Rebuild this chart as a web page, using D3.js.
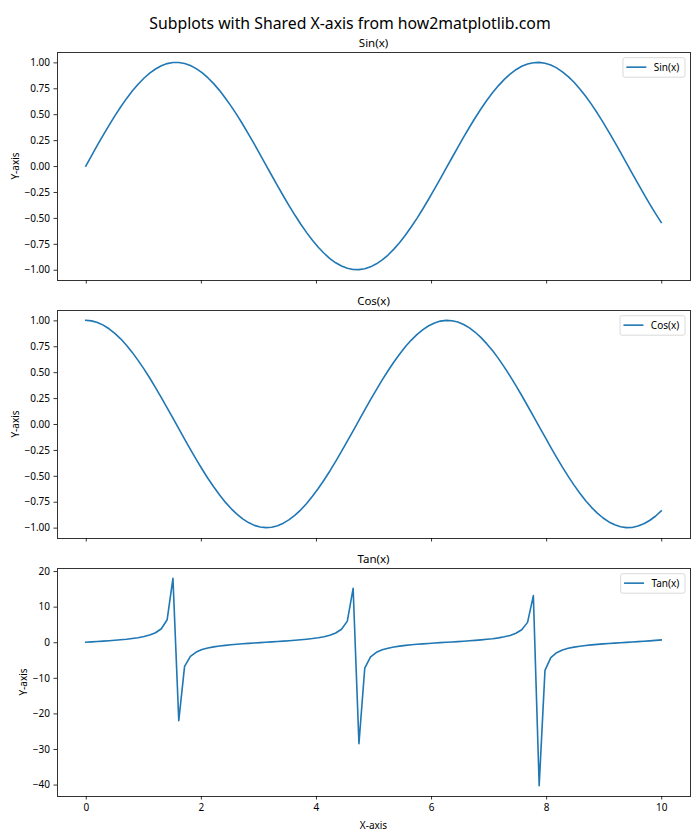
<!DOCTYPE html>
<html>
<head>
<meta charset="utf-8">
<script src="https://cdn.jsdelivr.net/npm/d3@7/dist/d3.min.js"></script>
<style>
  html, body { margin: 0; padding: 0; background: #fff; }
  svg { display: block; }
  text { font-family: "Noto Sans", "Open Sans", sans-serif; fill: #000; }
</style>
</head>
<body>
<div id="chart"></div>
<script>
// ---- data (x = 100 sample points from 0 to 10) ----
const xValues = [
  0, 0.101, 0.202, 0.303, 0.404, 0.505, 0.606, 0.707, 0.808, 0.909,
  1.010, 1.111, 1.212, 1.313, 1.414, 1.515, 1.616, 1.717, 1.818, 1.919,
  2.020, 2.121, 2.222, 2.323, 2.424, 2.525, 2.626, 2.727, 2.828, 2.929,
  3.030, 3.131, 3.232, 3.333, 3.434, 3.535, 3.636, 3.737, 3.838, 3.939,
  4.040, 4.141, 4.242, 4.343, 4.444, 4.545, 4.646, 4.747, 4.848, 4.949,
  5.051, 5.152, 5.253, 5.354, 5.455, 5.556, 5.657, 5.758, 5.859, 5.960,
  6.061, 6.162, 6.263, 6.364, 6.465, 6.566, 6.667, 6.768, 6.869, 6.970,
  7.071, 7.172, 7.273, 7.374, 7.475, 7.576, 7.677, 7.778, 7.879, 7.980,
  8.081, 8.182, 8.283, 8.384, 8.485, 8.586, 8.687, 8.788, 8.889, 8.990,
  9.091, 9.192, 9.293, 9.394, 9.495, 9.596, 9.697, 9.798, 9.899, 10
];
const sinValues = [
  0, 0.101, 0.201, 0.298, 0.393, 0.484, 0.570, 0.650, 0.723, 0.789,
  0.847, 0.896, 0.936, 0.967, 0.988, 0.998, 0.999, 0.989, 0.970, 0.940,
  0.901, 0.852, 0.795, 0.730, 0.657, 0.578, 0.493, 0.403, 0.308, 0.211,
  0.111, 0.010, -0.091, -0.191, -0.289, -0.384, -0.475, -0.561, -0.642, -0.716,
  -0.783, -0.841, -0.892, -0.933, -0.964, -0.986, -0.998, -0.999, -0.991, -0.972,
  -0.943, -0.905, -0.858, -0.801, -0.737, -0.665, -0.586, -0.502, -0.412, -0.318,
  -0.221, -0.121, -0.021, 0.080, 0.180, 0.279, 0.374, 0.466, 0.553, 0.634,
  0.709, 0.776, 0.836, 0.887, 0.929, 0.962, 0.984, 0.997, 1.000, 0.992,
  0.974, 0.947, 0.909, 0.863, 0.808, 0.744, 0.673, 0.595, 0.511, 0.421,
  0.328, 0.231, 0.131, 0.031, -0.070, -0.170, -0.269, -0.365, -0.457, -0.544
];
const cosValues = [
  1, 0.995, 0.980, 0.954, 0.919, 0.875, 0.822, 0.760, 0.691, 0.614,
  0.532, 0.444, 0.351, 0.255, 0.156, 0.056, -0.045, -0.146, -0.245, -0.341,
  -0.434, -0.523, -0.606, -0.683, -0.754, -0.816, -0.870, -0.915, -0.951, -0.978,
  -0.994, -1.000, -0.996, -0.982, -0.957, -0.923, -0.880, -0.828, -0.767, -0.698,
  -0.623, -0.540, -0.453, -0.361, -0.265, -0.166, -0.066, 0.035, 0.136, 0.235,
  0.332, 0.425, 0.514, 0.598, 0.676, 0.747, 0.810, 0.865, 0.911, 0.948,
  0.975, 0.993, 1.000, 0.997, 0.984, 0.960, 0.927, 0.885, 0.833, 0.773,
  0.706, 0.631, 0.549, 0.462, 0.370, 0.275, 0.176, 0.076, -0.025, -0.125,
  -0.225, -0.322, -0.416, -0.505, -0.590, -0.668, -0.740, -0.804, -0.860, -0.907,
  -0.945, -0.973, -0.991, -1.000, -0.998, -0.985, -0.963, -0.931, -0.890, -0.839
];
const tanValues = [
  0, 0.10, 0.20, 0.31, 0.43, 0.55, 0.69, 0.85, 1.05, 1.28,
  1.59, 2.02, 2.67, 3.79, 6.33, 17.95, -22.03, -6.78, -3.96, -2.75,
  -2.07, -1.63, -1.31, -1.07, -0.87, -0.71, -0.57, -0.44, -0.32, -0.22,
  -0.11, -0.01, 0.09, 0.19, 0.30, 0.42, 0.54, 0.68, 0.84, 1.03,
  1.26, 1.56, 1.97, 2.59, 3.64, 5.93, 15.15, -28.49, -7.30, -4.14,
  -2.84, -2.13, -1.67, -1.34, -1.09, -0.89, -0.72, -0.58, -0.45, -0.34,
  -0.23, -0.12, -0.02, 0.08, 0.18, 0.29, 0.40, 0.53, 0.66, 0.82,
  1.00, 1.23, 1.52, 1.92, 2.51, 3.50, 5.58, 13.10, -40.30, -7.91,
  -4.33, -2.94, -2.19, -1.71, -1.37, -1.11, -0.91, -0.74, -0.59, -0.46,
  -0.35, -0.24, -0.13, -0.03, 0.07, 0.17, 0.28, 0.39, 0.51, 0.65
];
const panelTitles = ["Sin(x)", "Cos(x)", "Tan(x)"];
const trigTicks = [-1.00, -0.75, -0.50, -0.25, 0.00, 0.25, 0.50, 0.75, 1.00];
const tanTicks = [-40, -30, -20, -10, 0, 10, 20];
const xTicks = [0, 2, 4, 6, 8, 10];
const suptitle = "Subplots with Shared X-axis from how2matplotlib.com";
const xLabel = "X-axis";
const yLabel = "Y-axis";

// ---- layout ----
const W = 700, H = 840;
const left = 57, right = 690;
const panels = [
  { top: 52, bottom: 280, values: sinValues, ticks: trigTicks, fmt: d3.format(".2f"), labelX: 15 },
  { top: 310, bottom: 538, values: cosValues, ticks: trigTicks, fmt: d3.format(".2f"), labelX: 15 },
  { top: 568, bottom: 796, values: tanValues, ticks: tanTicks, fmt: d3.format("d"), labelX: 23 }
];
const color = "#1f77b4";
const minus = s => s.replace("-", "\u2212");

const svg = d3.select("#chart").append("svg").attr("width", W).attr("height", H);

svg.append("text")
  .attr("x", 350).attr("y", 28.5)
  .attr("text-anchor", "middle")
  .style("font-size", "15.8px")
  .text(suptitle);

const x = d3.scaleLinear().domain([-0.5, 10.5]).range([left, right]);

panels.forEach((p, i) => {
  const ext = d3.extent(p.values);
  const pad = (ext[1] - ext[0]) * 0.05;
  const y = d3.scaleLinear().domain([ext[0] - pad, ext[1] + pad]).range([p.bottom, p.top]);
  const g = svg.append("g");

  // y axis
  const ya = g.append("g").attr("transform", `translate(${left},0)`)
    .call(d3.axisLeft(y).tickValues(p.ticks).tickSize(3.5).tickPadding(3.5)
      .tickFormat(d => minus(p.fmt(d))));
  ya.select(".domain").remove();
  ya.selectAll("line").attr("stroke", "#000").attr("stroke-width", 0.8);
  ya.selectAll("text").style("font-size", "10px").attr("fill", "#000").style("font-family", null);

  // x axis
  const xa = g.append("g").attr("transform", `translate(0,${p.bottom})`)
    .call(d3.axisBottom(x).tickValues(xTicks).tickSize(3.5).tickPadding(4)
      .tickFormat(i === 2 ? d3.format("d") : () => ""));
  xa.select(".domain").remove();
  xa.selectAll("line").attr("stroke", "#000").attr("stroke-width", 0.8);
  xa.selectAll("text").style("font-size", "10px").attr("fill", "#000").style("font-family", null);

  // line
  const line = d3.line().x((d, k) => x(xValues[k])).y(d => y(d));
  g.append("path").datum(p.values)
    .attr("d", line)
    .attr("fill", "none")
    .attr("stroke", color)
    .attr("stroke-width", 1.6)
    .attr("stroke-linejoin", "round")
    .attr("stroke-linecap", "square");

  // frame
  g.append("rect")
    .attr("x", left).attr("y", p.top)
    .attr("width", right - left).attr("height", p.bottom - p.top)
    .attr("fill", "none").attr("stroke", "#000").attr("stroke-width", 0.8)
    .attr("shape-rendering", "crispEdges");

  // panel title
  g.append("text")
    .attr("x", (left + right) / 2).attr("y", p.top - 5.5)
    .attr("text-anchor", "middle")
    .style("font-size", "11.5px")
    .text(panelTitles[i]);

  // y label
  g.append("text")
    .attr("transform", `translate(${p.labelX},${(p.top + p.bottom) / 2}) rotate(-90)`)
    .attr("text-anchor", "middle")
    .attr("dominant-baseline", "central")
    .style("font-size", "10px")
    .text(yLabel);

  // legend
  const lg = g.append("g");
  const box = lg.append("rect").attr("rx", 2).attr("ry", 2)
    .attr("fill", "#fff").attr("fill-opacity", 0.8)
    .attr("stroke", "#d0d0d0").attr("stroke-width", 0.8);
  const txt = lg.append("text").style("font-size", "10px").text(panelTitles[i]);
  const tw = txt.node().getComputedTextLength();
  const bw = tw + 36.5, bh = 19.5;
  const bx = 685 - bw, by = p.top + 5.7;
  box.attr("x", bx).attr("y", by).attr("width", bw).attr("height", bh);
  lg.append("line")
    .attr("x1", bx + 3.4).attr("x2", bx + 23.4)
    .attr("y1", by + bh / 2 - 0.3).attr("y2", by + bh / 2 - 0.3)
    .attr("stroke", color).attr("stroke-width", 1.6);
  txt.attr("x", bx + 30.8).attr("y", by + bh / 2 + 3.5);
});

svg.append("text")
  .attr("x", (left + right) / 2).attr("y", 829)
  .attr("text-anchor", "middle")
  .style("font-size", "10px")
  .text(xLabel);
</script>
</body>
</html>
